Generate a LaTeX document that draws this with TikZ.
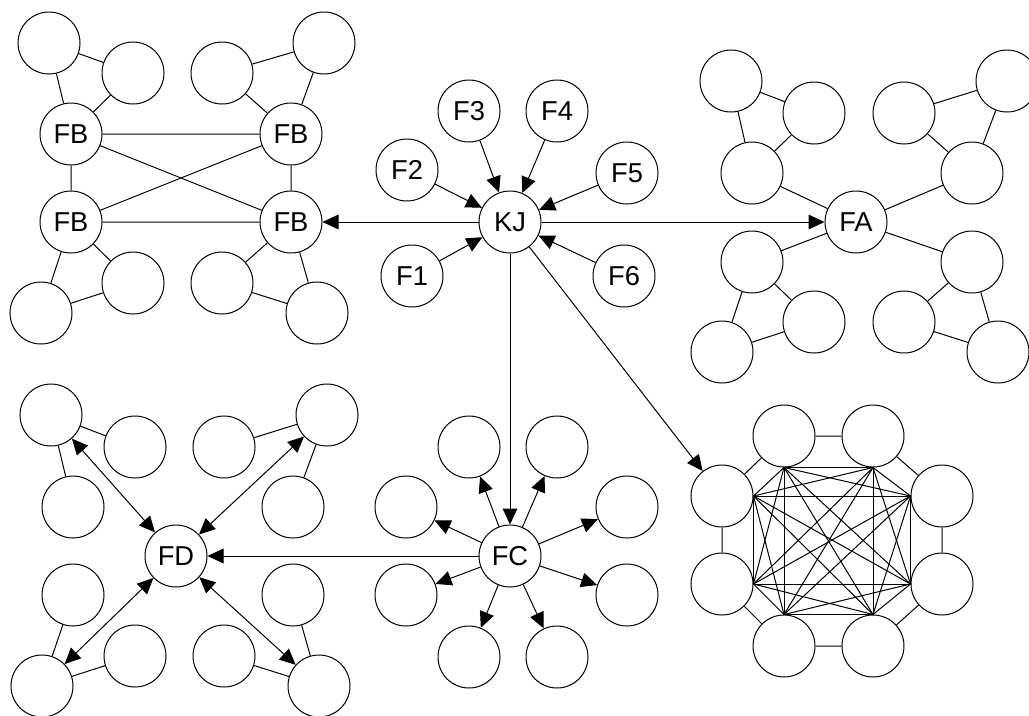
\documentclass[tikz,border=0pt]{standalone}
\usepackage{fontspec}
\setmainfont{Liberation Sans}
\usetikzlibrary{arrows.meta}
\tikzset{
  nd/.style={circle,draw,line width=0.75pt,minimum size=46.5pt,inner sep=0pt,font=\fontsize{20.5}{20.5}\selectfont},
  ln/.style={line width=0.75pt},
  arr/.style={line width=0.75pt,-{Triangle[length=12pt,width=11pt]}},
  darr/.style={line width=0.75pt,{Triangle[length=12pt,width=11pt]}-{Triangle[length=12pt,width=11pt]}},
}
\begin{document}
\begin{tikzpicture}[x=0.75pt,y=-0.75pt]
\useasboundingbox (0,0) rectangle (1029,715);
\clip (0,0) rectangle (1029,715);
% KJ group
\node[nd] (kj) at (510,222) {KJ};
\node[nd] (f1) at (412,276) {F1};
\node[nd] (f2) at (407,170) {F2};
\node[nd] (f3) at (469,111) {F3};
\node[nd] (f4) at (557,111) {F4};
\node[nd] (f5) at (627,173) {F5};
\node[nd] (f6) at (624,276) {F6};
\foreach \f in {f1,f2,f3,f4,f5,f6} \draw[arr] (\f) -- (kj);
% FB group
\node[nd] (fb1) at (71,134) {FB};
\node[nd] (fb2) at (291,134) {FB};
\node[nd] (fb3) at (71,222) {FB};
\node[nd] (fb4) at (291,222) {FB};
\node[nd] (b1) at (49,43) {};
\node[nd] (b2) at (133,73) {};
\node[nd] (b3) at (222,73) {};
\node[nd] (b4) at (324,43) {};
\node[nd] (b5) at (41,313) {};
\node[nd] (b6) at (133,283) {};
\node[nd] (b7) at (222,283) {};
\node[nd] (b8) at (317,313) {};
\draw[ln] (fb1) -- (fb2) (fb1) -- (fb4) (fb3) -- (fb2) (fb3) -- (fb4) (fb1) -- (fb3) (fb2) -- (fb4);
\draw[ln] (b1) -- (b2) (b1) -- (fb1) (b2) -- (fb1);
\draw[ln] (b4) -- (b3) (b4) -- (fb2) (b3) -- (fb2);
\draw[ln] (b5) -- (b6) (b5) -- (fb3) (b6) -- (fb3);
\draw[ln] (b8) -- (b7) (b8) -- (fb4) (b7) -- (fb4);
% FA group
\node[nd] (fa) at (856,222) {FA};
\node[nd] (a1) at (731,81) {};
\node[nd] (a2) at (814,113) {};
\node[nd] (a3) at (752,173) {};
\node[nd] (a4) at (1007,81) {};
\node[nd] (a5) at (904,113) {};
\node[nd] (a6) at (972,173) {};
\node[nd] (a7) at (752,262) {};
\node[nd] (a8) at (814,322) {};
\node[nd] (a9) at (722,352) {};
\node[nd] (a10) at (972,262) {};
\node[nd] (a11) at (904,322) {};
\node[nd] (a12) at (998,352) {};
\draw[ln] (a1) -- (a2) (a1) -- (a3) (a2) -- (a3) (a3) -- (fa);
\draw[ln] (a4) -- (a5) (a4) -- (a6) (a5) -- (a6) (a6) -- (fa);
\draw[ln] (fa) -- (a7) (a7) -- (a8) (a7) -- (a9) (a9) -- (a8);
\draw[ln] (fa) -- (a10) (a10) -- (a11) (a10) -- (a12) (a11) -- (a12);
% FD group
\node[nd] (fd) at (176,556) {FD};
\node[nd] (d1) at (51,415) {};
\node[nd] (d2) at (135,447) {};
\node[nd] (d3) at (73,507) {};
\node[nd] (d4) at (327,415) {};
\node[nd] (d5) at (224,447) {};
\node[nd] (d6) at (293,507) {};
\node[nd] (d7) at (73,595) {};
\node[nd] (d8) at (135,656) {};
\node[nd] (d9) at (42,686) {};
\node[nd] (d10) at (293,595) {};
\node[nd] (d11) at (224,656) {};
\node[nd] (d12) at (319,686) {};
\draw[ln] (d1) -- (d2) (d1) -- (d3);
\draw[ln] (d4) -- (d5) (d4) -- (d6);
\draw[ln] (d9) -- (d7) (d9) -- (d8);
\draw[ln] (d12) -- (d10) (d12) -- (d11);
\foreach \d in {d1,d4,d9,d12} \draw[darr] (\d) -- (fd);
% FC group
\node[nd] (fc) at (510,556) {FC};
\node[nd] (c1) at (469,447) {};
\node[nd] (c2) at (557,447) {};
\node[nd] (c3) at (406,507) {};
\node[nd] (c4) at (627,507) {};
\node[nd] (c5) at (406,595) {};
\node[nd] (c6) at (627,595) {};
\node[nd] (c7) at (469,657) {};
\node[nd] (c8) at (557,657) {};
\foreach \c in {c1,c2,c3,c4,c5,c6,c7,c8} \draw[arr] (fc) -- (\c);
% Mesh group
\node[nd] (m1) at (784,436) {};
\node[nd] (m2) at (873,436) {};
\node[nd] (m3) at (942,496) {};
\node[nd] (m4) at (942,584) {};
\node[nd] (m5) at (873,646) {};
\node[nd] (m6) at (784,646) {};
\node[nd] (m7) at (722,584) {};
\node[nd] (m8) at (722,496) {};
\draw[ln] (m1) -- (m2) -- (m3) -- (m4) -- (m5) -- (m6) -- (m7) -- (m8) -- (m1);
\coordinate (p1) at (m1.south);
\coordinate (p2) at (m2.south);
\coordinate (p3) at (m3.west);
\coordinate (p4) at (m4.west);
\coordinate (p5) at (m5.north);
\coordinate (p6) at (m6.north);
\coordinate (p7) at (m7.east);
\coordinate (p8) at (m8.east);
\foreach \i in {1,...,7}{
  \pgfmathtruncatemacro\k{\i+1}
  \foreach \j in {\k,...,8}{\draw[ln] (p\i) -- (p\j);}
}
% main connectors
\draw[arr] (kj) -- (fb4);
\draw[arr] (kj) -- (fa);
\draw[arr] (kj) -- (fc);
\draw[arr] (kj) -- (m8);
\draw[arr] (fc) -- (fd);
\end{tikzpicture}
\end{document}
